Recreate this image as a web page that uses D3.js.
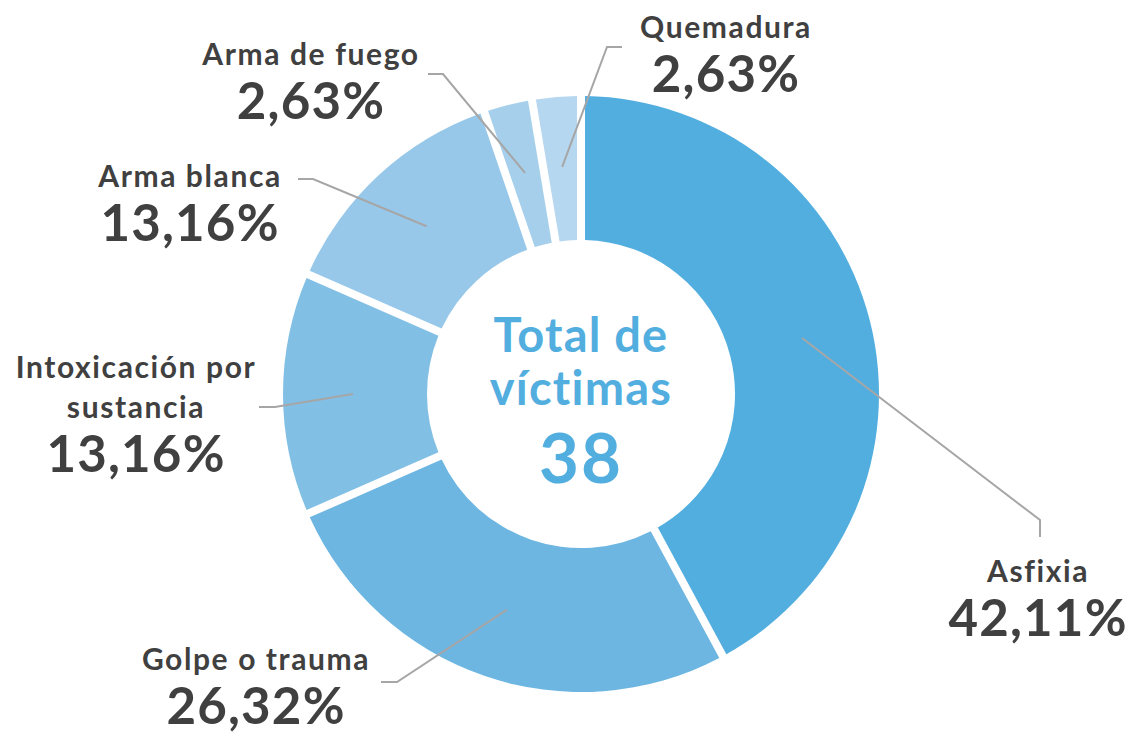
<!DOCTYPE html>
<meta charset="utf-8">
<style>
  body { margin: 0; background: #fff; }
  text { font-family: Lato, "Noto Sans", sans-serif; }
</style>
<svg width="1133" height="735"></svg>
<script src="https://d3js.org/d3.v7.min.js"></script>
<script>

// datos
const categories = ["Asfixia", "Golpe o trauma", "Intoxicación por sustancia", "Arma blanca", "Arma de fuego", "Quemadura"]
const victims = [16, 10, 5, 5, 1, 1]
const percentLabels = ["42,11%", "26,32%", "13,16%", "13,16%", "2,63%", "2,63%"]
const colors = ["#53aee0", "#6db6e2", "#82bfe5", "#97c8e9", "#a6cfec", "#b6d7f0"]

// label layout: name lines, text anchor point and leader elbow / end
const labelLines = [["Asfixia"], ["Golpe o trauma"], ["Intoxicación por", "sustancia"], ["Arma blanca"], ["Arma de fuego"], ["Quemadura"]]
const labelPos = [[1038, 582], [256, 670], [136, 378], [190, 187], [311, 65], [726, 38]]
const leaderElbow = [[1040, 520, 1040, 537], [397, 682, 381, 682], [275, 407, 259, 407], [313, 179, 298, 179], [443, 74, 428, 74], [607, 47, 622, 47]]

const width = 1133, height = 735
const cx = 581, cy = 394
const outerRadius = 298
const innerRadius = 154

const svg = d3.select("svg")
const g = svg.append("g").attr("transform", `translate(${cx},${cy})`)

const pie = d3.pie().sort(null).value(d => d)
const arcs = pie(victims)

const arc = d3.arc()
    .innerRadius(innerRadius)
    .outerRadius(outerRadius)
    .padAngle(8 / outerRadius)
    .padRadius(outerRadius)

g.selectAll("path.slice")
  .data(arcs)
  .join("path")
    .attr("class", "slice")
    .attr("fill", (d, i) => colors[i])
    .attr("d", arc)

// leader lines start in the middle of the ring
const midArc = d3.arc().innerRadius(228).outerRadius(228)

svg.append("g")
  .selectAll("polyline")
  .data(arcs)
  .join("polyline")
    .attr("fill", "none")
    .attr("stroke", "#a6a6a6")
    .attr("stroke-width", 2)
    .attr("points", (d, i) => {
      const [x, y] = midArc.centroid(d)
      const e = leaderElbow[i]
      return [[x + cx, y + cy], [e[0], e[1]], [e[2], e[3]]].map(p => p.join(",")).join(" ")
    })

const labels = svg.append("g")
  .selectAll("g")
  .data(arcs)
  .join("g")
    .attr("transform", (d, i) => `translate(${labelPos[i][0]},${labelPos[i][1]})`)
    .attr("fill", "#404040")
    .attr("text-anchor", "middle")

labels.each(function(d, i) {
  const el = d3.select(this)
  labelLines[i].forEach((line, j) => {
    el.append("text")
      .attr("y", j * 40)
      .attr("font-size", 30)
      .attr("font-weight", 700)
      .attr("letter-spacing", 1.6)
      .text(line)
  })
  el.append("text")
    .attr("y", (labelLines[i].length - 1) * 40 + 54)
    .attr("font-size", 51)
    .attr("font-weight", 700)
    .attr("letter-spacing", 1.2)
    .text(percentLabels[i])
})

// centro
const center = svg.append("g")
    .attr("fill", "#53aee0")
    .attr("text-anchor", "middle")

center.append("text").attr("x", cx).attr("y", 352).attr("font-size", 47).attr("font-weight", 700).attr("letter-spacing", 1.2).text("Total de")
center.append("text").attr("x", cx).attr("y", 405).attr("font-size", 47).attr("font-weight", 700).attr("letter-spacing", 1.2).text("víctimas")
center.append("text").attr("x", cx).attr("y", 483).attr("font-size", 69).attr("font-weight", 700).attr("letter-spacing", 2).text(d3.sum(victims))

</script>
